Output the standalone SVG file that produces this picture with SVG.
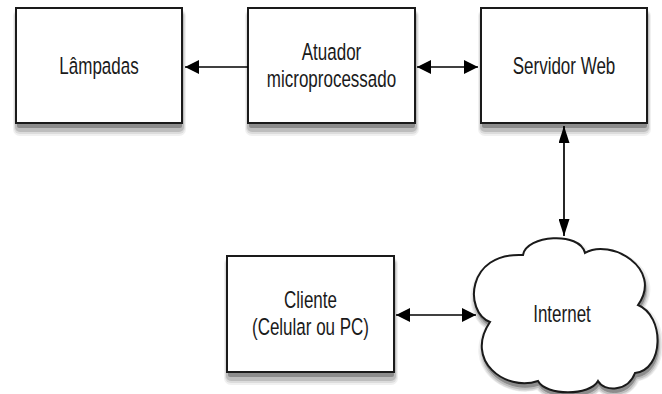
<svg xmlns="http://www.w3.org/2000/svg" width="662" height="394" viewBox="0 0 662 394">
  <defs>
    <marker id="headH" viewBox="0 0 14 14" refX="14" refY="7" markerWidth="14" markerHeight="14" markerUnits="userSpaceOnUse" orient="auto-start-reverse">
      <path d="M0,0 L14,7 L0,14 Z" fill="#000"/>
    </marker>
    <marker id="headV" viewBox="0 0 17 11" refX="17" refY="5.5" markerWidth="17" markerHeight="11" markerUnits="userSpaceOnUse" orient="auto-start-reverse">
      <path d="M0,0 L17,5.5 L0,11 Z" fill="#000"/>
    </marker>
    <path id="cloud" d="M523,255 C526,235 580,231 585,253 C610,238 664,268 638,305 C665,316 664,370 635,373 C628,392 604,392 598,381 C590,396 546,396 538,381 C505,392 464,360 490,322 C464,312 466,252 523,255 Z"/>
  </defs>
  <style>
    .box { fill: #fff; stroke: #1a1a1a; stroke-width: 2; }
    .s1 { fill: #f0f0f0; }
    .s2 { fill: #dcdcdc; }
    .s3 { fill: #bdbdbd; }
    .s4 { fill: #8c8c8c; }
    .c1 { fill: #f0f0f0; stroke: #f0f0f0; stroke-width: 9; stroke-linejoin: round; }
    .c2 { fill: #dcdcdc; stroke: #dcdcdc; stroke-width: 6; stroke-linejoin: round; }
    .c3 { fill: #bdbdbd; stroke: #bdbdbd; stroke-width: 3; stroke-linejoin: round; }
    .c4 { fill: #8c8c8c; stroke: #8c8c8c; stroke-width: 1; stroke-linejoin: round; }
    .lbl { font-family: "Liberation Sans", Arial, sans-serif; font-size: 17px; fill: #1a1a1a; text-anchor: middle; }
    .conn { stroke: #000; stroke-width: 1.7; fill: none; }
  </style>

  <rect width="662" height="394" fill="#fff"/>

  <g id="lampadas">
    <rect class="s1" x="13" y="9" width="173" height="127" rx="7"/>
    <rect class="s2" x="14" y="10" width="171" height="124" rx="6"/>
    <rect class="s3" x="15" y="11" width="169" height="121" rx="5"/>
    <rect class="s4" x="17" y="12" width="165" height="116" rx="2"/>
    <rect class="box" x="16" y="8" width="166" height="115"/>
    <text class="lbl" transform="translate(99,73.5) scale(1,1.38)">Lâmpadas</text>
  </g>

  <g id="atuador">
    <rect class="s1" x="245" y="9" width="174" height="127" rx="7"/>
    <rect class="s2" x="246" y="10" width="172" height="124" rx="6"/>
    <rect class="s3" x="247" y="11" width="170" height="121" rx="5"/>
    <rect class="s4" x="249" y="12" width="166" height="116" rx="2"/>
    <rect class="box" x="248" y="8" width="167" height="115"/>
    <text class="lbl" transform="translate(331.5,60) scale(1,1.38)"><tspan x="0" y="0">Atuador</tspan><tspan x="0" dy="19.6">microprocessado</tspan></text>
  </g>

  <g id="servidor">
    <rect class="s1" x="478" y="9" width="173" height="127" rx="7"/>
    <rect class="s2" x="479" y="10" width="171" height="124" rx="6"/>
    <rect class="s3" x="480" y="11" width="169" height="121" rx="5"/>
    <rect class="s4" x="482" y="12" width="165" height="116" rx="2"/>
    <rect class="box" x="481" y="8" width="166" height="115"/>
    <text class="lbl" transform="translate(564,74) scale(1,1.38)">Servidor Web</text>
  </g>

  <g id="cliente">
    <rect class="s1" x="224" y="257" width="174" height="128" rx="7"/>
    <rect class="s2" x="225" y="258" width="172" height="125" rx="6"/>
    <rect class="s3" x="226" y="259" width="170" height="122" rx="5"/>
    <rect class="s4" x="228" y="260" width="166" height="117" rx="2"/>
    <rect class="box" x="227" y="256" width="167" height="116"/>
    <text class="lbl" transform="translate(310.5,308) scale(1,1.38)"><tspan x="0" y="0">Cliente</tspan><tspan x="0" dy="19.6">(Celular ou PC)</tspan></text>
  </g>

  <g id="internet">
    <use href="#cloud" class="c1" transform="translate(1,4)"/>
    <use href="#cloud" class="c2" transform="translate(1,5)"/>
    <use href="#cloud" class="c3" transform="translate(1,5)"/>
    <use href="#cloud" class="c4" transform="translate(1,4)"/>
    <use href="#cloud" class="box"/>
    <text class="lbl" transform="translate(562,322) scale(1,1.38)">Internet</text>
  </g>

  <g id="connectors">
    <line class="conn" x1="248" y1="67" x2="185" y2="67" marker-end="url(#headH)"/>
    <line class="conn" x1="417" y1="67" x2="478" y2="67" marker-start="url(#headH)" marker-end="url(#headH)"/>
    <line class="conn" x1="564" y1="126" x2="564" y2="236" marker-start="url(#headV)" marker-end="url(#headV)"/>
    <line class="conn" x1="396" y1="315" x2="476" y2="315" marker-start="url(#headH)" marker-end="url(#headH)"/>
  </g>
</svg>
